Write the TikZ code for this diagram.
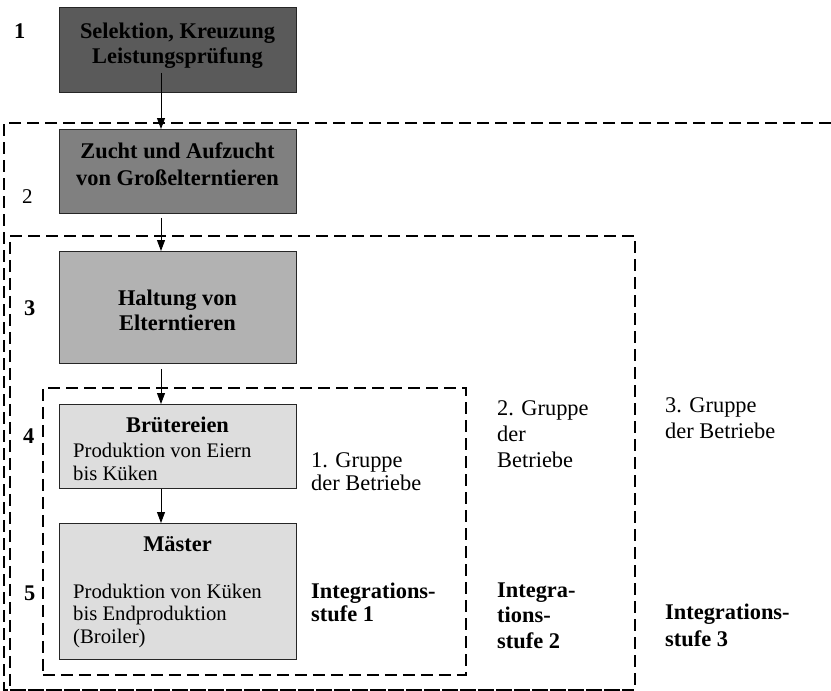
\documentclass[tikz,border=0pt]{standalone}
\usepackage{fontspec}
\setmainfont{Liberation Serif}
\usetikzlibrary{arrows.meta}
\definecolor{cA}{RGB}{90,90,90}
\definecolor{cB}{RGB}{128,128,128}
\definecolor{cC}{RGB}{178,178,178}
\definecolor{cD}{RGB}{221,221,221}
\begin{document}
\begin{tikzpicture}[x=1pt,y=-1pt,
  box/.style={draw=black!85, line width=0.9pt, minimum width=237pt, anchor=north west, inner sep=0pt},
  dashln/.style={draw=black, line width=1.7pt, dash pattern=on 12pt off 6pt},
  grp/.style={dashln, anchor=north west, inner sep=0pt},
  arr/.style={line width=0.9pt, -{Triangle[length=11pt,width=8pt]}},
  bt/.style={inner sep=0pt, anchor=base, align=center, font=\fontsize{22.4}{25}\selectfont\bfseries},
  nt/.style={inner sep=0pt, anchor=base west, align=left, font=\fontsize{22.4}{26}\selectfont},
  bodyt/.style={inner sep=0pt, anchor=base west, align=left, font=\fontsize{20.7}{23}\selectfont},
  ntb/.style={inner sep=0pt, anchor=base west, align=left, font=\fontsize{22.4}{23}\selectfont\bfseries},
  lab/.style={inner sep=0pt, anchor=base west, font=\fontsize{22.4}{25}\selectfont\bfseries}
]
\useasboundingbox (0,0) rectangle (831,691);
% group frames
\draw[dashln] (831,123) -- (4,123) -- (4,690) -- (634,690);
\node[grp, minimum width=625pt, minimum height=454pt] (g2) at (9,235) {};
\node[grp, minimum width=423pt, minimum height=287pt] (g1) at (42,387) {};
% boxes
\node[box, fill=cA, minimum height=85pt] (b1) at (59,7) {};
\node[box, fill=cB, minimum height=84pt] (b2) at (59,129) {};
\node[box, fill=cC, minimum height=112pt] (b3) at (59,251) {};
\node[box, fill=cD, minimum height=84pt] (b4) at (59,404) {};
\node[box, fill=cD, minimum height=136pt] (b5) at (59,523) {};
\coordinate (ax) at (161,0);
% box texts (anchor base = baseline of last line)
\node[bt] (t1) at (177.5,63) {Selektion, Kreuzung\\Leistungsprüfung};
\node[bt, font=\fontsize{22.4}{27}\selectfont\bfseries] (t2) at (177.5,185) {Zucht und Aufzucht\\von Großelterntieren};
\node[bt] (t3) at (177.5,330) {Haltung von\\Elterntieren};
\node[bt] (t4) at (177.5,432) {Brütereien};
\node[bodyt] (t4b) at (73,480) {Produktion von Eiern\\bis Küken};
\node[bt] (t5) at (177.5,551) {Mäster};
\node[bodyt, font=\fontsize{20.7}{22.5}\selectfont] (t5b) at (73,643) {Produktion von Küken\\bis Endproduktion\\(Broiler)};
% level labels
\node[lab] (l1) at (14,38) {1};
\node[lab, font=\fontsize{21}{25}\selectfont] (l2) at (22,203) {2};
\node[lab] (l3) at (24,315) {3};
\node[lab] (l4) at (23,443) {4};
\node[lab] (l5) at (24,600) {5};
% group texts
\node[nt, font=\fontsize{22.4}{23}\selectfont] (gt1) at (311,490) {1. Gruppe\\der Betriebe};
\node[ntb] (it1) at (311,621) {Integrations-\\stufe 1};
\node[nt] (gt2) at (497,467) {2. Gruppe\\der\\Betriebe};
\node[ntb, font=\fontsize{22.4}{25.5}\selectfont\bfseries] (it2) at (497,648) {Integra-\\tions-\\stufe 2};
\node[nt] (gt3) at (665,438) {3. Gruppe\\der Betriebe};
\node[ntb, font=\fontsize{22.4}{27}\selectfont\bfseries] (it3) at (665,646) {Integrations-\\stufe 3};
% arrows
\draw[arr] ([yshift=20pt]b1.south -| ax) -- (b2.north -| ax);
\draw[arr] ([yshift=-4pt]b2.south -| ax) -- (b3.north -| ax);
\draw[arr] ([yshift=-5pt]b3.south -| ax) -- (b4.north -| ax);
\draw[arr] (b4.south -| ax) -- (b5.north -| ax);
\end{tikzpicture}
\end{document}
